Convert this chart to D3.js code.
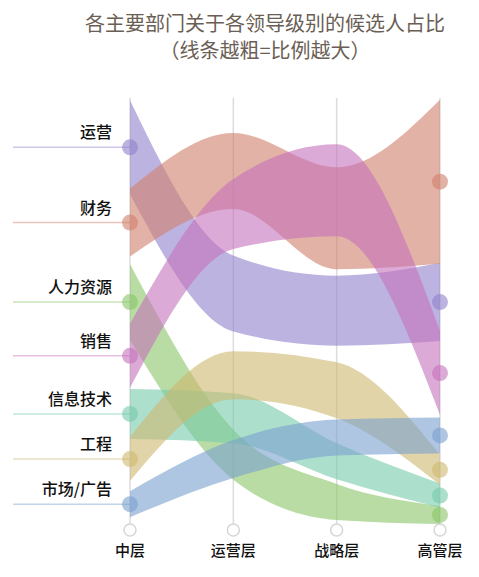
<!DOCTYPE html>
<html>
<head>
<meta charset="utf-8">
<script src="https://cdn.jsdelivr.net/npm/d3@7"></script>
<style>
  body { margin: 0; background: #fff; }
  svg { display: block; font-family: "Noto Sans CJK SC", "Noto Sans", sans-serif; }
</style>
</head>
<body>
<svg id="chart"></svg>
<script>
// niveaux hiérarchiques (axes verticaux)
const levels = ["中层", "运营层", "战略层", "高管层"];

// départements, dans l'ordre de la légende de gauche
const departments = ["运营", "财务", "人力资源", "销售", "信息技术", "工程", "市场/广告"];

// position relative du ruban sur chaque axe (0 = bas, 100 = haut)
const posOps   = [89, 55, 51, 53];
const posFin   = [71.5, 83.5, 72.5, 81];
const posHR    = [53, 17.5, 6.5, 3.5];
const posSales = [40.5, 73.5, 79, 36.5];
const posIT    = [27, 26, 16, 8];
const posEng   = [16.5, 36, 32.5, 14];
const posMkt   = [6, 16.5, 21.5, 22];

// part des candidats (%) => épaisseur du ruban
const shareOps   = [23.5, 19, 17.5, 19.5];
const shareFin   = [17, 19, 25.5, 41];
const shareHR    = [19, 12.5, 9, 4.5];
const shareSales = [16, 17.5, 23, 21];
const shareIT    = [12.5, 12.5, 9, 6];
const shareEng   = [11, 12, 14, 7.5];
const shareMkt   = [6.5, 9.5, 9, 9];

const positions = [posOps, posFin, posHR, posSales, posIT, posEng, posMkt];
const shares = [shareOps, shareFin, shareHR, shareSales, shareIT, shareEng, shareMkt];

// couleur fixe pour chaque département
const deptColors = ["#9180cb", "#d07f6b", "#89c567", "#c571bb", "#75caaa", "#cfb770", "#7aa0cf"];

const width = 479;
const height = 577;

const svg = d3.select("#chart")
  .attr("width", width)
  .attr("height", height);

const x = d3.scalePoint().domain(levels).range([130, 440]);
const y = d3.scaleLinear().domain([0, 100]).range([530, 100]);
const thick = d3.scaleLinear().domain([0, 10]).range([0, 40]);

// titre
svg.append("text")
  .attr("x", 265)
  .attr("y", 31)
  .attr("text-anchor", "middle")
  .style("font-size", "20px")
  .style("fill", "#6b5e54")
  .text("各主要部门关于各领导级别的候选人占比");

svg.append("text")
  .attr("x", 265)
  .attr("y", 58)
  .attr("text-anchor", "middle")
  .style("font-size", "20px")
  .style("fill", "#6b5e54")
  .text("（线条越粗=比例越大）");

// axes verticaux
svg.selectAll("line.axis")
  .data(levels)
  .enter()
  .append("line")
  .attr("class", "axis")
  .attr("x1", d => x(d))
  .attr("x2", d => x(d))
  .attr("y1", 98)
  .attr("y2", 524)
  .attr("stroke", "#dcdcdc")
  .attr("stroke-width", 1.5);

// lignes de légende à gauche
const rows = departments.map((name, i) => ({
  name,
  color: deptColors[i],
  pts: levels.map((lv, j) => ({ level: lv, pos: positions[i][j], share: shares[i][j] }))
}));

svg.selectAll("line.leader")
  .data(rows)
  .enter()
  .append("line")
  .attr("class", "leader")
  .attr("x1", 13)
  .attr("x2", x(levels[0]))
  .attr("y1", d => y(d.pts[0].pos))
  .attr("y2", d => y(d.pts[0].pos))
  .attr("stroke", d => d.color)
  .attr("stroke-opacity", 0.45)
  .attr("stroke-width", 1.5);

// rubans
const area = d3.area()
  .x(d => x(d.level))
  .y0(d => y(d.pos) - thick(d.share) / 2)
  .y1(d => y(d.pos) + thick(d.share) / 2)
  .curve(d3.curveMonotoneX);

svg.selectAll("path.band")
  .data(rows)
  .enter()
  .append("path")
  .attr("class", "band")
  .attr("d", d => area(d.pts))
  .attr("fill", d => d.color)
  .attr("fill-opacity", 0.6);

// points aux extrémités
const ends = [];
rows.forEach(r => {
  ends.push({ color: r.color, pt: r.pts[0] });
  ends.push({ color: r.color, pt: r.pts[levels.length - 1] });
});

svg.selectAll("circle.end")
  .data(ends)
  .enter()
  .append("circle")
  .attr("class", "end")
  .attr("cx", d => x(d.pt.level))
  .attr("cy", d => y(d.pt.pos))
  .attr("r", 8)
  .attr("fill", d => d.color)
  .attr("fill-opacity", 0.6);

// cercles vides en bas des axes
svg.selectAll("circle.base")
  .data(levels)
  .enter()
  .append("circle")
  .attr("class", "base")
  .attr("cx", d => x(d))
  .attr("cy", 530)
  .attr("r", 6)
  .attr("fill", "#fff")
  .attr("stroke", "#d6d6d6")
  .attr("stroke-width", 1.5);

// noms des départements
svg.selectAll("text.dept")
  .data(rows)
  .enter()
  .append("text")
  .attr("class", "dept")
  .attr("x", 112)
  .attr("y", d => y(d.pts[0].pos) - 9)
  .attr("text-anchor", "end")
  .style("font-size", "16px")
  .style("font-weight", "500")
  .style("fill", "#111")
  .text(d => d.name);

// libellés des niveaux
svg.selectAll("text.level")
  .data(levels)
  .enter()
  .append("text")
  .attr("class", "level")
  .attr("x", d => x(d))
  .attr("y", 556)
  .attr("text-anchor", "middle")
  .style("font-size", "15px")
  .style("font-weight", "500")
  .style("fill", "#111")
  .text(d => d);
</script>
</body>
</html>
